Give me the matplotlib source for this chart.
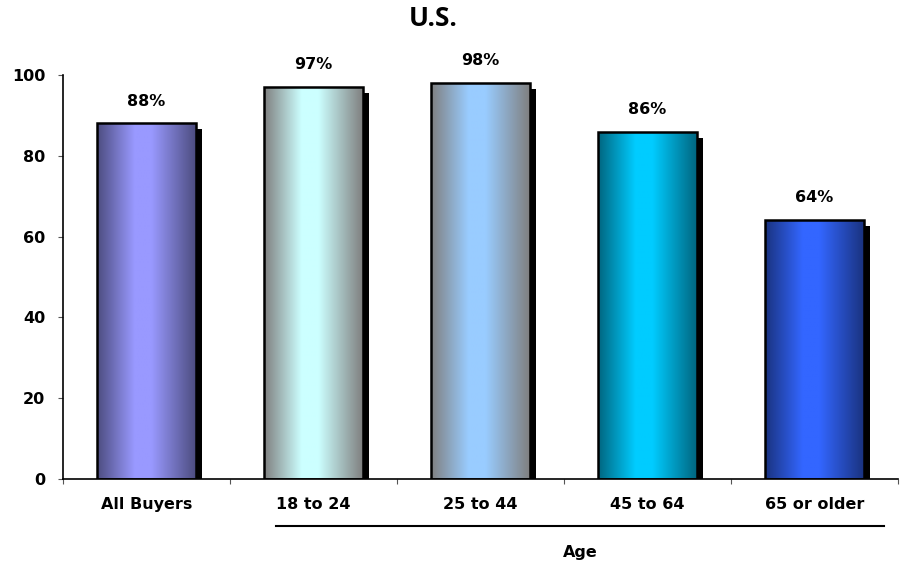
import numpy as np
import matplotlib
matplotlib.use("Agg")
import matplotlib.pyplot as plt
import matplotlib.transforms as mtransforms
from matplotlib.patches import Rectangle
from matplotlib.colors import LinearSegmentedColormap, to_rgb

categories = ["All Buyers", "18 to 24", "25 to 44", "45 to 64", "65 or older"]
values = [88, 97, 98, 86, 64]
yticks = [0, 20, 40, 60, 80, 100]

# light colour in the middle of each bar, dark colour at its edges
centerColors = ["#9999FF", "#CCFFFF", "#99CCFF", "#00CCFF", "#3366FF"]
edgeColors = ["#4D4D80", "#808080", "#808080", "#006680", "#1A3380"]

plt.rcParams["font.family"] = ["DejaVu Sans"]
labelSize = 11.5

fig = plt.figure(figsize=(9.06, 5.68), dpi=100)
ax = fig.add_axes([63 / 906, 89 / 568, 835 / 906, 404 / 568])

barWidth = 0.59
xs = np.arange(len(categories))
profile = np.interp(np.linspace(0, 1, 200), [0, 0.38, 0.55, 1], [0, 1, 1, 0])

shadowShift = mtransforms.ScaledTranslation(6 / 100, -6 / 100, fig.dpi_scale_trans)

for i, v in enumerate(values):
    left = xs[i] - barWidth / 2
    # shadow behind the bar
    ax.add_patch(Rectangle((left, 0), barWidth, v, facecolor="black",
                           edgecolor="none", zorder=1,
                           transform=ax.transData + shadowShift))
    cmap = LinearSegmentedColormap.from_list(
        "bar%d" % i, [to_rgb(edgeColors[i]), to_rgb(centerColors[i])])
    img = ax.imshow(profile[np.newaxis, :], cmap=cmap, aspect="auto",
                    extent=(left, left + barWidth, 0, v), zorder=2,
                    interpolation="bilinear")
    frame = Rectangle((left, 0), barWidth, v, facecolor="none",
                      edgecolor="black", linewidth=1.8, zorder=3)
    ax.add_patch(frame)
    img.set_clip_path(frame)
    ax.text(xs[i], v + 3.7, "%d%%" % v, ha="center", va="bottom",
            fontsize=labelSize, fontweight="bold")

ax.set_xlim(-0.5, len(categories) - 0.5)
ax.set_ylim(0, 100)
ax.set_yticks(yticks)
ax.set_yticklabels([str(t) for t in yticks], fontsize=labelSize, fontweight="bold")
ax.set_xticks(xs)
ax.set_xticklabels(categories, fontsize=labelSize, fontweight="bold")
ax.set_xticks(np.arange(len(categories) + 1) - 0.5, minor=True)
ax.tick_params(axis="x", which="major", length=0, pad=13)
ax.tick_params(axis="x", which="minor", length=3.6, width=0.8, color="#555555")
ax.tick_params(axis="y", length=3.6, width=0.8, color="#555555", pad=9)

for side in ["top", "right"]:
    ax.spines[side].set_visible(False)
ax.spines["left"].set_linewidth(1.2)
ax.spines["bottom"].set_linewidth(1.2)

# bracket line and label for the age groups
trans = mtransforms.blended_transform_factory(ax.transData, ax.transAxes)
ax.plot([0.775, 4.416], [-0.116, -0.116], color="black", linewidth=1.5,
        transform=trans, clip_on=False)
ax.text(2.6, -0.183, "Age", transform=trans, ha="center", va="center",
        fontsize=labelSize, fontweight="bold")

fig.text(433 / 906, 1 - 18 / 568, "U.S.", ha="center", va="center",
         fontsize=19, fontweight="bold", family=["Open Sans", "DejaVu Sans"])

fig.savefig("out.png", dpi=100)
